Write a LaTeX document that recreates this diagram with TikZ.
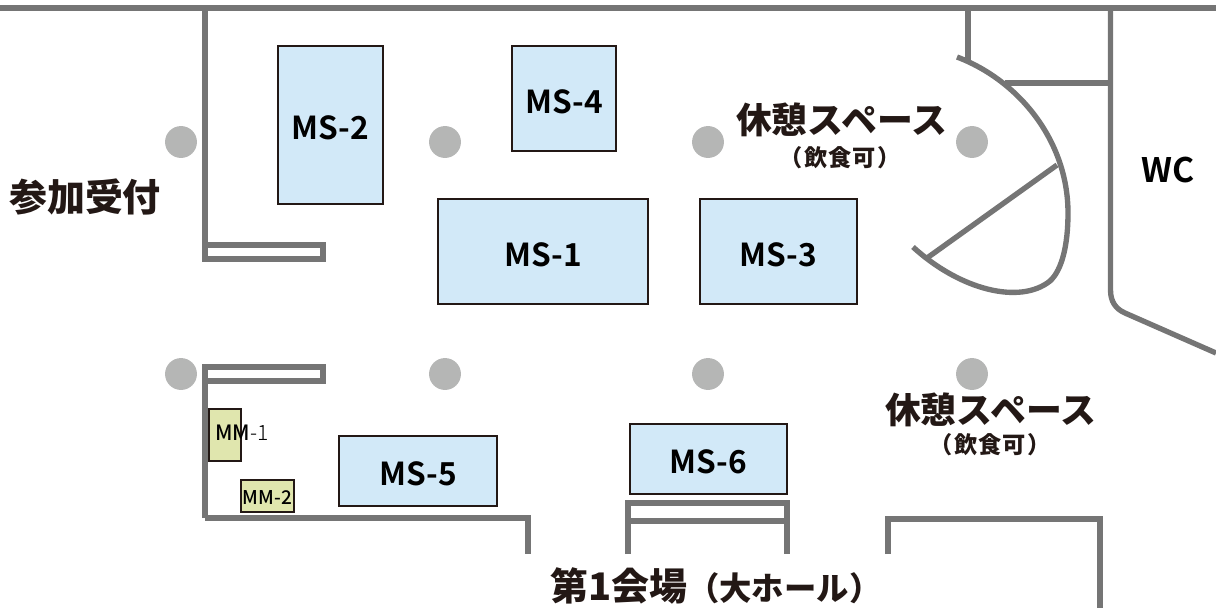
\documentclass[tikz,border=0pt]{standalone}
\usepackage{fontspec}
\newfontfamily\cjk{Noto Sans CJK JP Black}
\newfontfamily\cjksub[LetterSpace=5]{Noto Sans CJK JP Black}
\newfontfamily\cjkbold{Noto Sans CJK JP Bold}
\newfontfamily\cjkmed{Noto Sans CJK JP Medium}
\newfontfamily\cjklight{Noto Sans CJK JP Light}
\definecolor{wallgray}{HTML}{757575}
\definecolor{pillargray}{HTML}{B5B6B5}
\definecolor{msblue}{HTML}{D2E9F8}
\definecolor{mmgreen}{HTML}{E0E6AE}
\definecolor{inkblack}{HTML}{231815}
\tikzset{
    wall/.style={draw=wallgray, line width=3.8pt},
    pillar/.style={circle, fill=pillargray, minimum size=22.7pt, inner sep=0pt},
    msroom/.style={draw=inkblack, fill=msblue, line width=1.6pt, inner sep=0pt, text=black, text height=21pt, text depth=0pt, font=\cjkbold\fontsize{22.5}{23}\selectfont},
    mmroom/.style={draw=inkblack, fill=mmgreen, line width=1.6pt, inner sep=0pt},
    bigtext/.style={text=inkblack, inner sep=0pt, font=\cjk\fontsize{25.5}{26}\selectfont},
    subtext/.style={text=inkblack, inner sep=0pt, font=\cjksub\fontsize{16.5}{17}\selectfont},
}
\begin{document}
\begin{tikzpicture}[x=0.025cm, y=-0.025cm]
    \useasboundingbox (0,0) rectangle (1216,608);
    % pillars
    \foreach \px/\pname in {181/a, 445/b, 708/c, 972/d} {
        \node[pillar] (pillar\pname top) at (\px,142) {};
        \node[pillar] (pillar\pname bottom) at (\px,374) {};
    }
    % walls
    \draw[wall] (0,8) -- (1216,8);
    \draw[wall] (205,8) -- (205,259) -- (323,259) -- (323,245) -- (205,245);
    \draw[wall] (205,518) -- (205,367) -- (323,367) -- (323,381) -- (205,381);
    \draw[wall] (205,518) -- (528,518) -- (528,554);
    \draw[wall] (628,554) -- (628,503) -- (787,503) -- (787,554);
    \draw[wall] (628,521) -- (787,521);
    \draw[wall] (888,554) -- (888,519) -- (1100,519) -- (1100,608);
    \draw[wall] (968,8) -- (968,60);
    \draw[wall] (1110.5,8) -- (1110.5,290) .. controls (1110.5,302) and (1116,309) .. (1125,313) -- (1216,353);
    \draw[wall] (1110.5,83) -- (1005,83);
    \draw[wall] (957,57) .. controls (1018,80) and (1068,140) .. (1068,213)
        .. controls (1068,245) and (1062,270) .. (1050,281)
        .. controls (1020,305) and (960,290) .. (913,247);
    \draw[wall] (1057,165) -- (927,258);
    % rooms
    \node[msroom, minimum width=74.4pt, minimum height=112pt] (ms2) at (330.5,125) {MS-2};
    \node[msroom, minimum width=73.7pt, minimum height=74.4pt] (ms4) at (564,98.5) {MS-4};
    \node[msroom, minimum width=148.9pt, minimum height=74.4pt] (ms1) at (543,251.5) {MS-1};
    \node[msroom, minimum width=111.3pt, minimum height=74.4pt] (ms3) at (778.5,251.5) {MS-3};
    \node[msroom, minimum width=112pt, minimum height=49.6pt] (ms5) at (418,471) {MS-5};
    \node[msroom, minimum width=111.3pt, minimum height=49.6pt] (ms6) at (708.5,459) {MS-6};
    \node[mmroom, minimum width=22.7pt, minimum height=36.9pt] (mm1) at (225,435) {};
    \node[mmroom, minimum width=37.6pt, minimum height=22.7pt] (mm2) at (267.5,496) {};
    \node[inner sep=0pt, anchor=west, font=\fontsize{15}{15}\selectfont] (mm1text) at (215,433) {{\cjkmed MM}{\cjklight -1}};
    \node[inner sep=0pt, font=\cjkmed\fontsize{13.5}{13.5}\selectfont] (mm2text) at (267.5,497) {MM-2};
    % labels
    \node[bigtext, font=\cjk\fontsize{27}{27}\selectfont] (reception) at (85,197) {参加受付};
    \node[bigtext] (rest1) at (841.5,120) {休憩スペース};
    \node[subtext] (rest1sub) at (840,158) {（飲食可）};
    \node[bigtext] (rest2) at (990.5,410) {休憩スペース};
    \node[subtext] (rest2sub) at (990,445) {（飲食可）};
    \node[inner sep=0pt, font=\cjkbold\fontsize{24}{24}\selectfont] (wc) at (1168,170) {WC};
    \node[bigtext, anchor=west, font=\cjk\fontsize{27}{27}\selectfont] (hall) at (550,586) {第1会場\fontsize{23}{23}\selectfont（大ホール）};
\end{tikzpicture}
\end{document}
